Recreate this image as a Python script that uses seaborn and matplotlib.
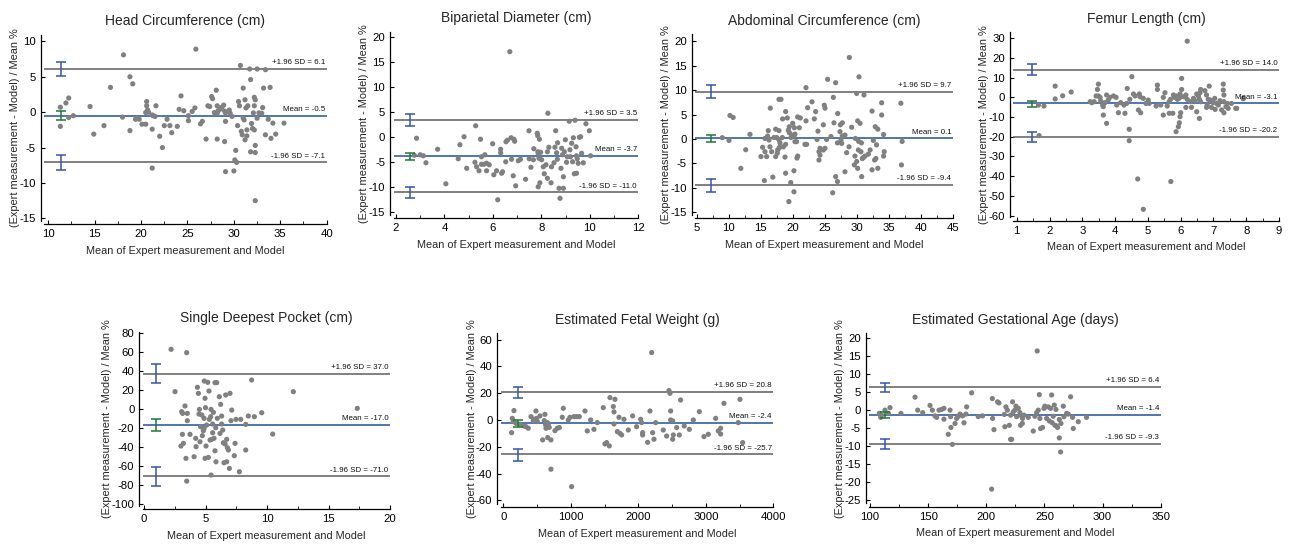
import matplotlib
matplotlib.use("Agg")
import matplotlib.pyplot as plt
from matplotlib.ticker import AutoMinorLocator
import numpy as np
import pandas as pd
import seaborn as sns

# ---------------------------------------------------------------------------
# Bland-Altman data: (mean of expert & model, difference / mean %)
# ---------------------------------------------------------------------------
hc_points = [
    (11.3, 0.7), (11.9, 1.3), (12.2, 2.0), (11.3, -2.0), (12.2, -0.75), (12.7, -0.5),
    (14.5, 0.8), (14.9, -3.1), (16.0, -1.9), (16.7, 3.5), (18.1, 8.1), (18.0, -0.7),
    (18.8, -2.6), (18.8, 5.0), (19.1, 4.0), (19.4, -1.0), (19.6, -0.85), (19.8, -1.0),
    (20.1, -1.7), (20.5, -1.7), (20.6, 1.5), (20.6, 0.9), (20.7, 0.3), (20.5, -0.05),
    (20.8, 0.0), (21.2, -0.4), (21.3, -0.5), (21.5, -0.6), (21.6, 0.9), (21.2, -2.4),
    (21.2, -7.9), (22.0, -3.4), (22.3, -5.0), (22.5, -1.9), (22.8, -1.0), (23.1, -1.9),
    (23.3, -2.9), (23.9, -2.0), (24.1, 0.4), (24.3, 2.3), (24.6, 0.2), (25.1, -0.5),
    (25.1, -1.2), (25.5, 0.1), (25.8, 0.6), (25.9, 8.9), (26.4, -1.65), (26.6, -1.3),
    (27.0, -3.8), (27.2, 0.9), (27.4, 0.8), (27.6, 2.2), (27.7, 1.9), (28.1, 3.1),
    (28.2, 0.9), (27.9, -0.05), (28.2, -0.15), (28.3, 0.2), (28.5, 0.4), (28.7, 0.7),
    (28.9, 1.0), (29.0, 0.15), (29.1, -0.1), (28.2, -3.8), (29.0, -4.15), (29.1, -1.3),
    (29.1, -8.4), (29.5, 0.3), (29.6, -0.15), (29.8, -0.6), (30.0, -8.3), (30.1, -6.75),
    (30.2, -5.4), (30.3, -7.1), (30.4, -1.9), (30.5, 1.5), (30.7, 6.6), (30.6, 0.9),
    (30.8, -2.7), (30.9, -3.2), (31.0, 3.4), (31.0, -0.85), (31.1, -1.1), (31.2, 1.75),
    (31.3, 0.6), (31.2, -3.9), (31.4, -2.5), (31.5, 0.9), (31.4, -3.35), (31.7, 6.1),
    (31.8, 4.6), (31.8, -5.6), (31.9, -1.6), (32.0, -2.3), (32.1, -0.1), (32.2, 2.1),
    (32.3, 1.75), (32.2, 0.9), (32.3, -5.7), (32.3, -4.7), (32.2, -2.5), (32.3, -12.5),
    (32.5, 6.1), (32.5, -0.85), (32.7, -0.1), (33.0, -0.15), (33.1, 0.65), (33.2, 3.4),
    (33.4, 6.0), (33.4, -3.2), (33.7, -1.0), (33.9, 3.5), (34.0, -3.7), (34.2, -1.55),
    (34.5, -3.1), (35.4, -1.55),
]

bpd_points = [
    (2.85, -0.2), (2.76, -3.6), (3.0, -3.5), (3.13, -3.7), (3.24, -5.1), (3.72, -2.4),
    (4.06, -9.3), (4.57, -4.3), (4.64, -1.5), (4.81, 0.1), (4.92, -6.2), (5.29, 2.3),
    (5.26, -5.0), (5.33, -5.9), (5.43, -6.7), (5.49, -0.4), (5.53, -5.4), (5.63, -5.4),
    (5.53, -3.9), (5.67, -3.5), (5.74, -5.2), (5.74, -6.7), (5.85, -5.5), (5.99, -1.3),
    (6.04, -7.5), (6.15, -6.7), (6.20, -12.5), (6.32, -2.4), (6.32, -3.1), (6.36, -7.2),
    (6.40, -6.9), (6.53, -4.9), (6.54, -0.9), (6.70, 17.1), (6.75, -0.1), (6.77, -4.4),
    (6.87, -0.4), (6.84, -7.7), (6.94, -9.7), (7.05, -4.7), (7.14, -4.4), (7.35, -8.4),
    (7.49, 1.3), (7.50, -4.3), (7.57, -6.0), (7.67, -4.5), (7.69, -2.3), (7.83, 0.8),
    (7.85, 0.3), (7.92, -0.4), (7.86, -2.9), (7.87, -3.2), (7.90, -4.2), (7.94, -9.1),
    (7.87, -9.9), (7.97, -3.0), (8.01, -4.5), (8.08, -5.9), (8.12, -7.3), (8.19, -5.5),
    (8.25, -2.9), (8.25, -8.2), (8.27, 4.8), (8.31, -2.0), (8.40, -9.1), (8.42, -5.9),
    (8.52, -5.1), (8.56, -2.0), (8.59, 1.3), (8.63, -3.1), (8.66, -4.4), (8.67, -1.1),
    (8.73, -10.2), (8.77, -12.2), (8.81, -6.2), (8.84, -2.2), (8.87, -3.5), (8.91, -10.2),
    (8.91, -7.9), (8.95, -2.9), (8.99, -0.5), (9.04, -5.0), (9.07, -3.9), (9.15, 3.2),
    (9.18, -2.5), (9.20, -3.9), (9.25, -1.2), (9.29, -4.9), (9.32, -0.1), (9.39, 3.4),
    (9.36, -7.3), (9.43, -1.9), (9.45, -3.7), (9.45, -7.2), (9.48, -4.3), (9.52, -5.2),
    (9.57, 0.0), (9.62, 0.1), (9.66, -3.2), (9.73, -5.1), (9.84, 2.7), (9.98, 1.3),
    (10.03, -3.7), (6.6, -0.6), (6.9, -0.8),
]

ac_points = [
    (28.85, 16.66), (30.36, 12.7), (25.46, 12.2), (26.71, 11.5), (22.08, 10.5), (30.0, 9.3),
    (31.14, 9.0), (17.86, 8.1), (18.17, 8.1), (16.5, 6.3), (23.02, 7.6), (22.34, 6.4),
    (24.94, 6.9), (25.05, 6.3), (23.59, 5.6), (26.35, 8.5), (18.9, 5.6), (19.16, 4.3),
    (18.43, 4.1), (20.78, 4.5), (21.19, 4.3), (20.0, 3.2), (19.47, 2.5), (19.32, 1.8),
    (19.47, 1.3), (17.34, 2.0), (17.86, 1.7), (16.19, 1.7), (15.67, 0.1), (16.09, 0.6),
    (16.3, -0.2), (17.08, 0.3), (17.5, 0.3), (17.86, -0.2), (18.38, 0.3), (18.02, -0.8),
    (19.74, 0.3), (20.2, 0.6), (19.84, 0.8), (20.26, 2.3), (21.04, 2.3), (22.08, 3.7),
    (23.38, 4.1), (23.95, 1.6), (24.79, 2.9), (26.45, 3.3), (27.03, 5.2), (27.44, 2.9),
    (27.76, 3.3), (27.39, 1.5), (27.76, 0.6), (28.17, 0.8), (29.21, 2.4), (30.15, 3.7),
    (30.52, 3.2), (29.8, 0.1), (30.3, -0.5), (30.74, -0.8), (23.8, -0.1), (25.3, -0.1),
    (25.98, 0.5), (27.0, -0.8), (27.55, -0.2), (27.65, -0.9), (20.36, -0.55), (20.6, -0.55),
    (21.92, -1.1), (22.18, -1.1), (20.36, 1.0), (15.3, -1.7), (16.45, -1.6), (15.67, -2.6),
    (16.71, -2.6), (17.65, -2.25), (17.86, -1.9), (18.02, -1.6), (18.54, -1.6), (18.9, -1.1),
    (17.6, -2.9), (17.34, -3.6), (15.05, -3.6), (15.93, -3.6), (18.8, -3.7), (20.78, -3.5),
    (20.67, -3.9), (24.27, -1.9), (24.11, -2.6), (24.27, -3.3), (24.11, -4.3), (24.79, -2.25),
    (25.05, -1.9), (28.43, -2.8), (28.8, -1.6), (29.73, -3.5), (30.26, -2.25), (30.67, -2.6),
    (30.0, -4.6), (31.3, -3.5), (31.82, -3.1), (30.88, -4.0), (31.04, -3.8), (29.63, -5.3),
    (30.15, -6.0), (28.17, -6.7), (30.78, -7.7), (32.1, -2.25), (32.6, -0.3), (33.1, -1.2),
    (33.3, 2.0), (32.9, 2.5), (32.4, 5.7), (33.9, 7.4), (33.9, 4.9), (34.2, 0.9),
    (34.3, -2.6), (34.2, -3.5), (33.0, -4.0), (32.8, -4.3), (32.4, -6.3), (33.3, -6.0),
    (18.9, -7.0), (20.2, -6.5), (15.57, -8.5), (16.9, -7.8), (19.7, -8.9), (20.2, -10.8),
    (19.4, -12.8), (26.71, -7.7), (27.0, -8.7), (26.25, -11.0), (9.01, 0.27), (10.05, -0.3),
    (10.2, 4.8), (10.7, 4.4), (11.9, -6.0), (12.66, -2.2), (13.33, 0.95), (36.9, 7.3),
    (37.0, -5.3), (37.1, -0.5),
]

fl_points = [
    (4.51, 10.5), (6.03, 9.6), (3.49, 6.7), (5.29, 6.2), (7.30, 6.7), (3.46, 4.0),
    (4.37, 4.5), (5.29, 4.0), (6.87, 5.7), (6.61, 4.0), (6.59, 2.35), (6.03, 4.0),
    (5.98, 1.7), (5.52, 2.35), (5.78, 1.2), (5.81, 0.0), (5.86, 0.7), (5.9, -1.0),
    (5.95, -0.5), (6.0, 0.3), (6.1, 0.3), (6.16, 1.2), (6.2, -1.0), (6.3, -2.2),
    (6.39, -0.5), (6.44, -1.7), (6.49, 1.7), (6.54, 0.7), (6.57, -1.0), (6.61, -2.2),
    (6.74, 3.4), (6.79, 1.2), (6.84, -1.0), (6.91, -1.4), (6.99, -2.7), (7.04, -0.5),
    (7.10, -3.1), (7.15, -3.9), (7.2, -1.7), (7.3, 3.7), (7.32, 1.2), (7.32, -2.2),
    (7.38, -4.7), (7.45, -5.6), (7.43, -3.1), (7.55, -3.1), (7.71, -5.6), (7.91, -0.5),
    (6.81, -3.9), (6.79, -5.1), (6.94, -5.1), (7.05, -6.1), (7.25, -6.4), (7.32, -7.8),
    (6.33, -5.1), (6.49, -7.3), (6.57, -10.7), (6.16, -5.1), (6.0, -7.8), (5.98, -9.8),
    (5.96, -12.9), (5.93, -14.9), (5.86, -17.4), (5.76, -8.1), (5.65, -8.1), (5.59, -4.4),
    (5.47, -9.0), (5.25, -4.4), (5.04, -3.1), (5.01, -1.4), (4.94, -3.1), (4.78, -7.8),
    (4.71, -6.4), (4.76, 0.3), (4.74, 1.7), (4.61, 0.7), (4.56, 1.7), (4.45, -1.0),
    (4.35, -3.1), (4.27, -3.9), (4.17, -2.7), (4.05, -3.9), (4.30, -8.1), (4.10, -7.8),
    (4.43, -16.2), (4.43, -22.0), (3.95, 0.7), (4.03, 0.0), (3.84, 0.0), (3.79, -1.4),
    (3.74, 1.2), (3.69, -2.7), (3.62, -3.9), (3.56, -1.7), (3.49, 0.7), (3.42, 0.7),
    (3.36, -2.2), (3.29, -2.7), (3.64, -9.0), (3.74, -13.2), (3.54, 0.0), (3.64, -4.7),
    (4.86, -0.5), (5.47, 0.0), (5.69, -1.0), (5.65, -2.2), (5.39, -3.9),
    (1.66, -3.9), (1.83, -4.4), (1.68, -19.4), (2.17, 5.7), (2.17, -0.8), (2.40, 0.8),
    (2.66, 2.7), (3.24, -2.2), (4.69, -41.4), (4.86, -56.8), (5.70, -42.7), (6.20, 28.5),
    (7.91, -0.7), (7.68, -5.6),
]

sdp_points = [
    (2.2, 62.9), (3.47, 59.4), (2.52, 18.3), (3.06, -2.8), (3.14, -4.6), (3.33, 3.2),
    (3.52, -4.6), (3.52, -12.3), (3.0, -39.0), (3.2, -36.2), (3.12, -26.7), (3.41, -52.0),
    (3.47, -76.0), (3.74, -26.7), (4.07, -50.3), (4.20, -30.9), (4.23, -39.7), (4.34, 22.9),
    (4.42, 16.5), (4.47, -5.3), (4.5, -0.4), (4.55, -34.5), (4.6, -18.6), (4.7, -6.3),
    (4.74, -28.1), (4.82, -22.9), (4.88, -9.8), (4.9, 29.5), (4.88, -20.4), (4.96, 11.3),
    (4.96, -52.0), (5.0, 1.4), (5.04, -39.0), (5.09, -16.9), (5.18, 28.1), (5.23, -51.0),
    (5.28, 19.0), (5.31, -10.9), (5.37, -32.7), (5.42, -8.1), (5.45, -0.4), (5.45, -69.6),
    (5.5, -32.0), (5.58, -15.8), (5.58, -25.0), (5.64, -3.5), (5.69, -30.9), (5.77, 27.8),
    (5.77, -44.0), (5.83, -19.7), (5.91, 27.8), (5.96, -9.8), (5.85, -55.6), (6.12, 13.0),
    (6.18, -25.7), (6.23, 4.9), (6.31, -7.4), (6.31, -15.8), (6.4, -22.2), (6.45, -35.5),
    (6.5, -56.6), (6.59, -36.9), (6.64, 14.8), (6.72, -55.6), (6.72, -32.0), (6.78, -40.8),
    (6.86, -43.2), (6.94, -62.6), (6.99, 16.5), (7.07, -12.3), (7.13, -1.1), (7.4, -36.2),
    (7.34, -49.2), (7.48, -10.9), (7.75, -66.1), (7.86, -10.9), (8.27, -16.2), (8.27, -43.2),
    (8.48, -7.4), (8.75, 30.6), (8.97, -8.1), (9.57, -3.9), (10.46, -26.4), (12.14, 18.3),
    (17.34, 0.7),
]

efw_points = [
    (123, -9.5), (133, 1.2), (158, 7.0), (148, -1.2), (188, -2.5), (247, -3.2),
    (306, -4.5), (336, -5.0), (370, -6.2), (410, 2.5), (444, -0.5), (459, 0.5),
    (484, 6.7), (494, 1.2), (504, -1.2), (543, 3.0), (583, -14.9), (607, -0.5),
    (617, 4.2), (627, -3.7), (632, -6.2), (652, -2.0), (657, -13.2), (667, -3.0),
    (681, -5.5), (706, -14.9), (706, -36.8), (765, -8.0), (800, -6.2), (830, -5.7),
    (889, 8.7), (874, 2.0), (963, 0.0), (988, 2.0), (1012, -49.8), (1047, 2.5),
    (1086, 2.5), (1126, 2.5), (1210, 6.7), (1244, -8.2), (1294, 0.0), (1343, -7.0),
    (1393, -2.0), (1481, 9.2), (1506, -17.9), (1531, -16.9), (1570, -19.4), (1580, 16.7),
    (1630, 10.0), (1640, 6.0), (1654, 15.4), (1640, -3.0), (1689, -8.7), (1714, 2.0),
    (1728, -10.0), (1753, -11.2), (1788, 0.5), (1852, -7.5), (1916, 3.0), (1975, -5.0),
    (2035, 0.5), (2049, -2.0), (2064, -9.5), (2064, -11.2), (2138, -16.7), (2173, 6.7),
    (2198, 50.3), (2212, -9.5), (2232, -14.4), (2257, -2.0), (2370, -7.5), (2420, -12.0),
    (2454, 21.9), (2469, 19.9), (2479, 6.7), (2479, 0.0), (2509, -0.7), (2509, -14.4),
    (2519, -11.2), (2568, -5.7), (2607, -11.2), (2627, 14.9), (2681, -4.5), (2756, -7.0),
    (2815, 0.0), (2904, 6.2), (2973, -12.4), (3037, -10.7), (3146, 1.2), (3185, -8.2),
    (3220, -10.5), (3220, -6.2), (3269, 12.4), (3481, -2.0), (3506, 15.4), (3546, -16.9),
]

ega_points = [
    (108.0, -0.9), (109.2, -2.0), (110.0, -1.4), (112.9, 0.0), (117.2, 0.7), (115.8, -0.9),
    (126.6, -0.9), (138.7, 3.6), (141.0, 0.0), (145.3, -0.7), (151.6, 1.3), (153.6, 0.0),
    (155.9, -1.6), (157.3, -2.0), (159.3, 0.0), (161.6, 0.2), (163.6, 0.5), (163.6, -2.5),
    (167.3, -6.7), (168.8, 0.0), (169.3, -1.8), (169.6, -4.8), (170.8, -9.5), (173.1, -3.7),
    (174.5, -2.3), (176.0, -1.7), (177.4, -1.1), (179.7, -1.6), (180.8, -3.5), (183.1, 0.9),
    (182.5, -1.1), (187.4, 4.8), (193.1, -1.8), (196.8, -1.6), (204.6, -21.9), (205.2, 3.2),
    (205.4, -2.3), (206.6, -5.4), (209.7, 2.3), (210.9, 2.0), (215.5, -1.2), (216.0, -4.6),
    (216.9, 0.9), (218.1, 0.0), (219.8, -4.2), (220.9, -1.4), (220.9, -8.1), (221.8, -8.1),
    (222.6, 2.3), (223.2, -0.5), (224.6, 0.0), (225.5, 1.1), (226.1, -1.8), (227.5, 0.5),
    (228.9, -0.7), (229.5, -4.2), (230.4, -1.7), (231.0, -3.7), (231.2, -2.3), (232.4, -1.4),
    (236.1, -2.0), (240.4, -5.8), (241.8, -1.7), (243.3, -0.7), (243.8, 16.4), (244.7, 0.0),
    (245.6, 4.3), (246.1, -2.3), (246.7, -5.1), (248.4, -4.8), (249.6, 0.5), (250.4, 1.1),
    (251.9, -2.3), (253.3, 0.9), (254.2, -3.0), (255.3, 0.5), (256.2, 4.2), (256.7, -3.5),
    (257.6, -1.7), (258.5, 1.4), (259.0, -4.2), (259.9, 0.2), (260.5, -4.4), (261.3, -4.8),
    (262.8, -2.6), (262.8, -7.7), (263.9, -11.6), (264.2, -3.7), (266.2, 1.1), (266.8, -1.8),
    (269.1, -0.9), (270.5, -1.1), (272.5, 3.7), (274.2, -2.0), (274.8, -5.1), (279.1, -3.2),
    (286.2, -2.0),
]

# Limits of agreement: (+1.96 SD, mean, -1.96 SD)
hc_stats = (6.1, -0.5, -7.1)
bpd_stats = (3.5, -3.7, -11.0)
ac_stats = (9.7, 0.1, -9.4)
fl_stats = (14.0, -3.1, -20.2)
sdp_stats = (37.0, -17.0, -71.0)
efw_stats = (20.8, -2.4, -25.7)
ega_stats = (6.4, -1.4, -9.3)

# 95% confidence intervals: upper limit, mean, lower limit as (low, high)
hc_ci = [(5.1, 7.1), (-1.1, 0.1), (-8.1, -6.1)]
bpd_ci = [(2.3, 4.7), (-4.5, -3.1), (-12.1, -9.9)]
ac_ci = [(8.3, 11.1), (-0.7, 0.9), (-10.9, -8.1)]
fl_ci = [(11.3, 16.7), (-4.7, -1.7), (-22.8, -17.4)]
sdp_ci = [(27.0, 47.0), (-23.0, -11.0), (-81.0, -61.0)]
efw_ci = [(16.6, 24.9), (-5.0, -0.2), (-30.3, -21.6)]
ega_ci = [(4.9, 7.6), (-2.3, -0.6), (-10.8, -7.9)]

titles = [
    "Head Circumference (cm)", "Biparietal Diameter (cm)",
    "Abdominal Circumference (cm)", "Femur Length (cm)",
    "Single Deepest Pocket (cm)", "Estimated Fetal Weight (g)",
    "Estimated Gestational Age (days)",
]

# ---------------------------------------------------------------------------
# Styling
# ---------------------------------------------------------------------------
sns.set_theme(style="ticks")
plt.rcParams["font.family"] = ["Liberation Sans", "DejaVu Sans"]
plt.rcParams["axes.unicode_minus"] = False

POINT_COLOR = "#808080"
LOA_COLOR = "#5e5e5e"
MEAN_COLOR = "#1f4f9f"
CI_BLUE = "#3355b0"
CI_GREEN = "#1d7a30"

W, H = 1296, 547
fig = plt.figure(figsize=(W / 100, H / 100), dpi=100)

# panel layout in pixels: (left, right, top, bottom), limits, tick spacing, CI x-position
layout = [
    dict(box=(44.2, 326.7, 35.0, 220.5), xlim=(9.56, 40), ylim=(-15.3, 10.9),
         xt=np.arange(10, 41, 5), yt=np.arange(-15, 11, 5), cx=11.4),
    dict(box=(393.5, 638.3, 31.7, 214.8), xlim=(1.90, 12), ylim=(-15.5, 21.1),
         xt=np.arange(2, 13, 2), yt=np.arange(-15, 21, 5), cx=2.6),
    dict(box=(695.2, 952.7, 34.3, 214.8), xlim=(4.77, 45), ylim=(-15.5, 21.4),
         xt=np.arange(5, 46, 5), yt=np.arange(-15, 21, 5), cx=7.2),
    dict(box=(1013.5, 1279.0, 32.3, 217.2), xlim=(0.90, 9), ylim=(-60.8, 33),
         xt=np.arange(1, 10, 1), yt=np.arange(-60, 31, 10), cx=1.45),
    dict(box=(142.8, 390.0, 331.7, 505.8), xlim=(-0.1, 20), ylim=(-102, 81.5),
         xt=np.arange(0, 21, 5), yt=np.arange(-100, 81, 20), cx=1.0),
    dict(box=(500.8, 773.3, 333.3, 503.8), xlim=(-37, 4000), ylim=(-62.6, 64.7),
         xt=np.arange(0, 4001, 1000), yt=np.arange(-60, 61, 20), cx=225),
    dict(box=(869.2, 1160.7, 333.3, 503.2), xlim=(99.3, 350), ylim=(-25.8, 21.3),
         xt=np.arange(100, 351, 50), yt=np.arange(-25, 21, 5), cx=113),
]

datasets = [
    (hc_points, hc_stats, hc_ci), (bpd_points, bpd_stats, bpd_ci),
    (ac_points, ac_stats, ac_ci), (fl_points, fl_stats, fl_ci),
    (sdp_points, sdp_stats, sdp_ci), (efw_points, efw_stats, efw_ci),
    (ega_points, ega_stats, ega_ci),
]

for title, lay, (pts, stats, ci) in zip(titles, layout, datasets):
    l, r, t, b = lay["box"]
    ax = fig.add_axes([l / W, 1 - b / H, (r - l) / W, (b - t) / H])

    df = pd.DataFrame(pts, columns=["avg", "diff"])
    sns.scatterplot(data=df, x="avg", y="diff", ax=ax, color=POINT_COLOR,
                    s=14, linewidth=0, edgecolor="none", zorder=3)

    upper, mean, lower = stats
    ax.axhline(upper, color=LOA_COLOR, lw=1.1, zorder=2)
    ax.axhline(mean, color=MEAN_COLOR, lw=1.1, zorder=2)
    ax.axhline(lower, color=LOA_COLOR, lw=1.1, zorder=2)

    for text, val in ((f"+1.96 SD = {upper:.1f}", upper),
                      (f"Mean = {mean:.1f}", mean),
                      (f"-1.96 SD = {lower:.1f}", lower)):
        ax.annotate(text, xy=(1, val), xycoords=("axes fraction", "data"),
                    xytext=(-1, 2), textcoords="offset points",
                    ha="right", va="bottom", fontsize=5.7, color="#111111")

    for (lo, hi), col in zip(ci, (CI_BLUE, CI_GREEN, CI_BLUE)):
        ax.errorbar([lay["cx"]], [(lo + hi) / 2], yerr=[[(hi - lo) / 2], [(hi - lo) / 2]],
                    fmt="none", ecolor=col, elinewidth=1.1, capsize=3.8,
                    capthick=1.1, zorder=4)

    ax.set_xlim(*lay["xlim"])
    ax.set_ylim(*lay["ylim"])
    ax.set_xticks(lay["xt"])
    ax.set_yticks(lay["yt"])
    ax.xaxis.set_minor_locator(AutoMinorLocator(2))
    ax.tick_params(axis="both", which="major", direction="in", length=3,
                   width=0.8, labelsize=8.2, pad=3.5, colors="black")
    ax.tick_params(axis="x", which="minor", direction="in", length=2, width=0.7)

    sns.despine(ax=ax, offset=2.5)
    for side in ("left", "bottom"):
        ax.spines[side].set_linewidth(0.9)
        ax.spines[side].set_color("black")

    ax.set_title(title, fontsize=10, pad=7)
    ax.set_xlabel("Mean of Expert measurement and Model", fontsize=7.8, labelpad=5)
    ax.set_ylabel("(Expert measurement - Model) / Mean %", fontsize=7.9, labelpad=-0.5)

fig.savefig("out.png", dpi=100, facecolor="white")
